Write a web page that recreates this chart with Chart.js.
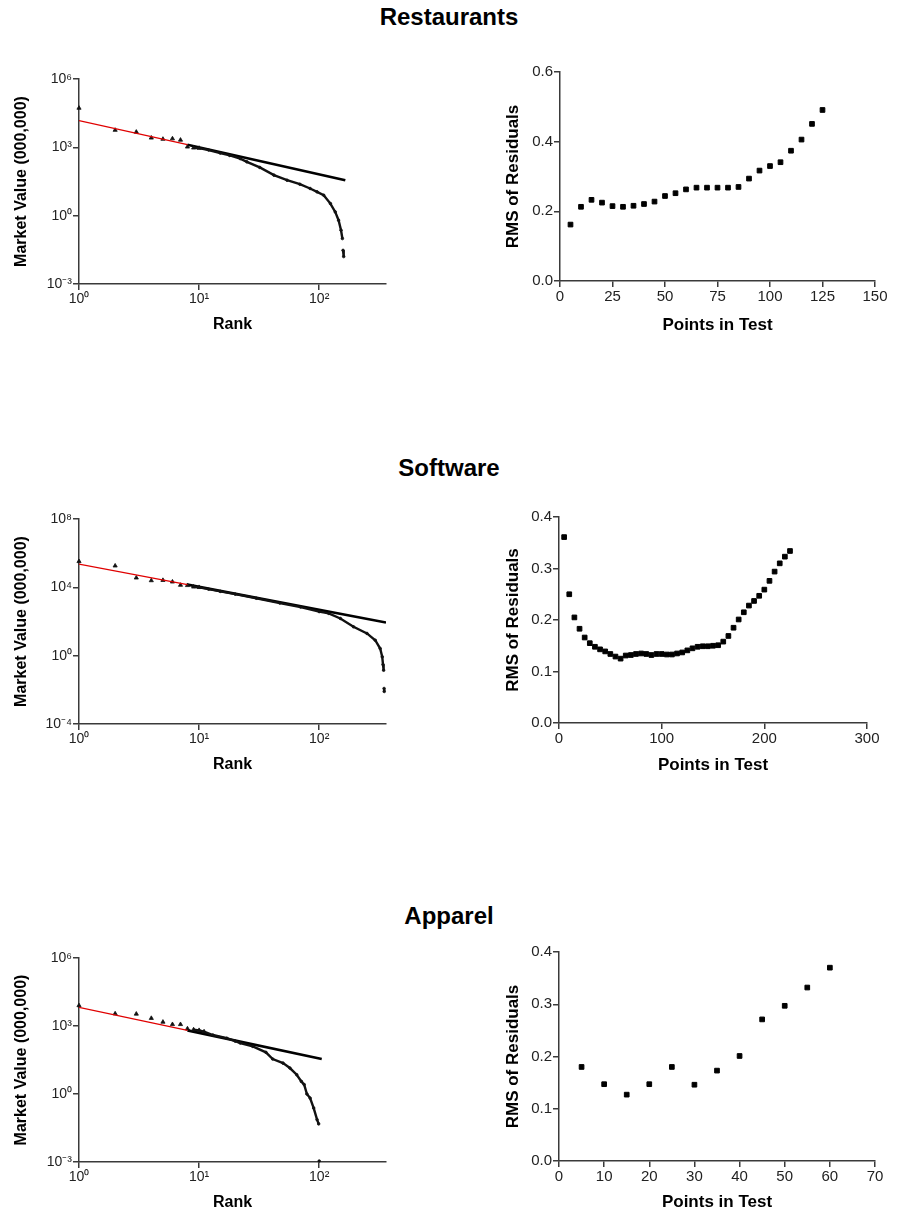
<!DOCTYPE html>
<html>
<head>
<meta charset="utf-8">
<script src="https://cdn.jsdelivr.net/npm/chart.js@4.4.1/dist/chart.umd.min.js"></script>
<style>
  body { margin: 0; background: #fff; width: 898px; height: 1216px; position: relative; overflow: hidden;
         font-family: "Liberation Sans", Arial, sans-serif; }
  canvas { position: absolute; }
  .title { position: absolute; left: 0; width: 898px; text-align: center; font-weight: bold;
           font-size: 24px; line-height: 24px; color: #000; }
</style>
</head>
<body>
<div class="title" style="top:5px">Restaurants</div>
<div class="title" style="top:456px">Software</div>
<div class="title" style="top:904px">Apparel</div>
<canvas id="restRank"></canvas>
<canvas id="restRms"></canvas>
<canvas id="softRank"></canvas>
<canvas id="softRms"></canvas>
<canvas id="appRank"></canvas>
<canvas id="appRms"></canvas>
<script>
// ---------- data ----------
// Restaurants: market value by rank
const restRanks  = [1, 2, 3, 4, 5, 6, 7, 8, 9, 10, 12, 15, 18, 22, 25, 32, 42, 54, 69, 84, 96, 109, 124, 136, 145, 152, 156, 158, 160];
const restValues = [53000, 5700, 4700, 2600, 2300, 2400, 2100, 1050, 950, 920, 760, 560, 440, 320, 231, 131, 60, 36, 24, 15.6, 11.1, 7.9, 3.4, 1.46, 0.63, 0.23, 0.099, 0.03, 0.016];
const restFitRanks  = [1, 8, 165];
const restFitValues = [14800, 1300, 36];
const restTestPoints = [5, 10, 15, 20, 25, 30, 35, 40, 45, 50, 55, 60, 65, 70, 75, 80, 85, 90, 95, 100, 105, 110, 115, 120, 125];
const restRmsValues  = [0.162, 0.213, 0.233, 0.225, 0.215, 0.213, 0.216, 0.221, 0.228, 0.244, 0.252, 0.263, 0.268, 0.268, 0.268, 0.268, 0.270, 0.294, 0.317, 0.330, 0.341, 0.374, 0.406, 0.451, 0.491];

// Software
const softRanks  = [1, 2, 3, 4, 5, 6, 7, 8, 9, 10, 12, 15, 20, 30, 47, 70, 100, 120, 150, 193, 250, 293, 322, 335, 340, 344, 347, 348];
const softValues = [330000, 182000, 36000, 25000, 26000, 21000, 13500, 13000, 10700, 10000, 7800, 5800, 4000, 2300, 1200, 700, 380, 300, 151, 49, 20, 8, 2.6, 0.85, 0.3, 0.14, 0.012, 0.008];
const softFitRanks  = [1, 8, 360];
const softFitValues = [230000, 14400, 88];
const softTestPoints = [5, 10, 15, 20, 25, 30, 35, 40, 45, 50, 55, 60, 65, 70, 75, 80, 85, 90, 95, 100, 105, 110, 115, 120, 125, 130, 135, 140, 145, 150, 155, 160, 165, 170, 175, 180, 185, 190, 195, 200, 205, 210, 215, 220, 225];
const softRmsValues  = [0.361, 0.250, 0.205, 0.183, 0.166, 0.155, 0.148, 0.143, 0.139, 0.134, 0.129, 0.125, 0.131, 0.132, 0.134, 0.135, 0.134, 0.132, 0.134, 0.134, 0.133, 0.133, 0.135, 0.137, 0.141, 0.145, 0.148, 0.149, 0.149, 0.150, 0.151, 0.158, 0.169, 0.185, 0.201, 0.215, 0.228, 0.237, 0.247, 0.259, 0.276, 0.294, 0.310, 0.323, 0.334];

// Apparel
const appRanks  = [1, 2, 3, 4, 5, 6, 7, 8, 9, 10, 11, 13, 17, 20, 22, 28, 36, 41, 50, 57, 65, 71, 75, 79, 84, 90, 96, 99, 100];
const appValues = [8000, 3500, 3400, 2200, 1500, 1180, 1180, 760, 690, 645, 560, 400, 290, 215, 178, 126, 69, 35, 23, 14, 7.1, 3.6, 2.6, 1.0, 0.66, 0.24, 0.074, 0.048, 0.0011];
const appFitRanks  = [1, 8, 105];
const appFitValues = [6670, 640, 35];
const appTestPoints = [5, 10, 15, 20, 25, 30, 35, 40, 45, 50, 55, 60];
const appRmsValues  = [0.180, 0.147, 0.127, 0.147, 0.180, 0.146, 0.173, 0.201, 0.271, 0.297, 0.332, 0.370];

// tick labels
const rankTicks       = [1, 10, 100];
const rankTickLabels  = ["10\u2070", "10\u00B9", "10\u00B2"];
const value3Ticks     = [0.001, 1, 1000, 1000000];
const value3Labels    = ["10\u207B\u00B3", "10\u2070", "10\u00B3", "10\u2076"];
const value4Ticks     = [0.0001, 1, 10000, 100000000];
const value4Labels    = ["10\u207B\u2074", "10\u2070", "10\u2074", "10\u2078"];

// ---------- styling ----------
const FONT = '"Liberation Sans", Arial, sans-serif';
const AXIS = '#3a3a3a';

function pts(xs, ys) {
    return xs.map((x, i) => ({ x: x, y: ys[i] }));
}

function axis(tickSize, title, titleSize) {
    return {
        border: { display: true, color: AXIS, width: 1.5 },
        grid: { display: true, drawOnChartArea: false, drawTicks: true, tickLength: 6, color: AXIS, lineWidth: 1.5 },
        ticks: { color: '#222', font: { family: FONT, size: tickSize }, padding: 1, maxRotation: 0, autoSkip: false },
        title: { display: true, text: title, color: '#000', font: { family: FONT, size: titleSize, weight: 'bold' } }
    };
}

// g = chart area in page pixels + title centres
function makeChart(id, g, datasets, xScale, yScale) {
    const cv = document.getElementById(id);
    const ct = Math.round(g.top) - 20;
    const cb = g.xTitleY + 16;
    cv.width = g.cw;
    cv.height = cb - ct;
    cv.style.left = g.cl + 'px';
    cv.style.top = ct + 'px';

    const lhX = xScale.title.font.size * 1.2;
    const lhY = yScale.title.font.size * 1.2;
    xScale.title.padding = { top: 0, bottom: cb - g.xTitleY - lhX / 2 };
    yScale.title.padding = { top: g.yTitleX - g.cl - lhY / 2, bottom: 0 };
    xScale.afterFit = s => { s.height = cb - g.bottom; };
    yScale.afterFit = s => { s.width = g.left - g.cl; };

    new Chart(cv, {
        type: 'scatter',
        data: { datasets: datasets },
        options: {
            responsive: false,
            animation: false,
            devicePixelRatio: 1,
            layout: { padding: { left: 0, bottom: 0, top: g.top - ct, right: g.cl + g.cw - g.right } },
            plugins: { legend: { display: false }, tooltip: { enabled: false } },
            scales: { x: xScale, y: yScale }
        }
    });
}

// no line between the separate top ranks, nor across a sudden drop between neighbours
function tailColor(c) {
    const a = c.p0.parsed, b = c.p1.parsed;
    if (b.x <= 9) return 'rgba(0,0,0,0)';
    if (b.x - a.x <= 3 && a.y / b.y > 3) return 'rgba(0,0,0,0)';
    return '#111';
}

function rankPanel(id, g, ranks, values, fitRanks, fitValues, yTicks, yLabels) {
    const x = axis(14, 'Rank', 16);
    x.type = 'logarithmic';
    x.min = 1;
    x.max = 360;
    x.afterBuildTicks = s => { s.ticks = rankTicks.map(v => ({ value: v })); };
    x.ticks.callback = (v, i) => rankTickLabels[i];

    const y = axis(14, 'Market Value (000,000)', 16);
    y.type = 'logarithmic';
    y.min = yTicks[0];
    y.max = yTicks[yTicks.length - 1];
    y.afterBuildTicks = s => { s.ticks = yTicks.map(v => ({ value: v })); };
    y.ticks.callback = (v, i) => yLabels[i];

    const datasets = [
        {   // fit over the first points
            data: pts(fitRanks.slice(0, 2), fitValues.slice(0, 2)),
            showLine: true, borderColor: '#e00000', borderWidth: 1.3, pointRadius: 0, order: 0
        },
        {   // ranked market values
            data: pts(ranks, values),
            showLine: true, borderWidth: 2.4, borderColor: '#111',
            segment: { borderColor: tailColor },
            pointStyle: c => (c.raw && c.raw.x <= 11) ? 'triangle' : 'circle',
            pointRadius: c => (c.raw && c.raw.x <= 11) ? 2.4 : 1.3,
            pointBackgroundColor: '#111', pointBorderColor: '#111', pointBorderWidth: 0.8,
            clip: false, order: 1
        },
        {   // fit extended over all ranks
            data: pts(fitRanks.slice(1), fitValues.slice(1)),
            showLine: true, borderColor: '#000', borderWidth: 2.6, pointRadius: 0, order: 2
        }
    ];
    makeChart(id, g, datasets, x, y);
}

function rmsPanel(id, g, xs, ys, xMax, xStep, yMax, yStep) {
    const x = axis(15, 'Points in Test', 17);
    x.type = 'linear';
    x.min = 0;
    x.max = xMax;
    x.ticks.stepSize = xStep;

    const y = axis(15, 'RMS of Residuals', 17);
    y.type = 'linear';
    y.min = 0;
    y.max = yMax;
    y.ticks.stepSize = yStep;
    y.ticks.callback = v => v.toFixed(1);

    const datasets = [{
        data: pts(xs, ys),
        pointStyle: 'rect', pointRadius: 3.3,
        pointBackgroundColor: '#000', pointBorderColor: '#000', pointBorderWidth: 1,
        clip: false
    }];
    makeChart(id, g, datasets, x, y);
}

// chart areas (page px)
rankPanel('restRank', { cl: 0, cw: 440, left: 79, right: 386, top: 79, bottom: 284, yTitleX: 22, xTitleY: 325 },
    restRanks, restValues, restFitRanks, restFitValues, value3Ticks, value3Labels);
rmsPanel('restRms', { cl: 480, cw: 418, left: 560, right: 875, top: 72, bottom: 281, yTitleX: 513, xTitleY: 325 },
    restTestPoints, restRmsValues, 150, 25, 0.6, 0.2);

rankPanel('softRank', { cl: 0, cw: 440, left: 79, right: 386, top: 519, bottom: 724, yTitleX: 22, xTitleY: 765 },
    softRanks, softValues, softFitRanks, softFitValues, value4Ticks, value4Labels);
rmsPanel('softRms', { cl: 480, cw: 418, left: 559, right: 867, top: 517, bottom: 723, yTitleX: 513, xTitleY: 765 },
    softTestPoints, softRmsValues, 300, 100, 0.4, 0.1);

rankPanel('appRank', { cl: 0, cw: 440, left: 79, right: 386, top: 958, bottom: 1162, yTitleX: 22, xTitleY: 1203 },
    appRanks, appValues, appFitRanks, appFitValues, value3Ticks, value3Labels);
rmsPanel('appRms', { cl: 480, cw: 418, left: 559, right: 875, top: 952, bottom: 1161, yTitleX: 513, xTitleY: 1202 },
    appTestPoints, appRmsValues, 70, 10, 0.4, 0.1);
</script>
</body>
</html>
